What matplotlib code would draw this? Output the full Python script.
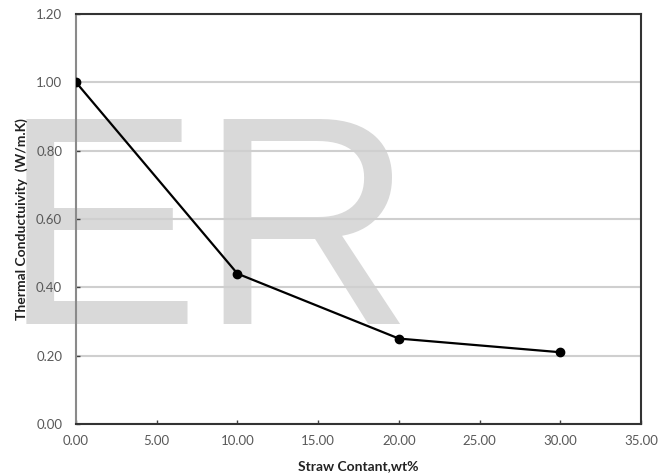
import matplotlib
matplotlib.use("Agg")
import matplotlib.pyplot as plt
from matplotlib.ticker import MultipleLocator, FormatStrFormatter

# straw content (wt%) vs thermal conductivity (W/m.K)
straw = [0, 10, 20, 30]
conductivity = [1.00, 0.44, 0.25, 0.21]

plt.rcParams['font.family'] = ['Lato', 'DejaVu Sans']

fig = plt.figure(figsize=(6.68, 4.74), dpi=100)
ax = fig.add_axes([0.1138, 0.1055, 0.8458, 0.865])
ax.patch.set_alpha(0)

# faint watermark sitting behind the plot
fig.text(0.003, 0.316, "ER", fontsize=214, color="#d9d9d9",
         family="Liberation Sans", ha="left", va="baseline", zorder=-1)

ax.plot(straw, conductivity, color="black", lw=1.6, marker="o",
        markersize=6, zorder=3)

ax.set_xlim(0, 35)
ax.set_ylim(0, 1.2)
ax.xaxis.set_major_locator(MultipleLocator(5))
ax.yaxis.set_major_locator(MultipleLocator(0.2))
ax.xaxis.set_major_formatter(FormatStrFormatter("%.2f"))
ax.yaxis.set_major_formatter(FormatStrFormatter("%.2f"))

ax.grid(axis="y", color="#cfcfcf", lw=1.5)
ax.set_axisbelow(True)
ax.tick_params(direction="in", length=3, width=1, colors="#404040",
               labelsize=9.5, labelcolor="#595959")
ax.tick_params(axis="x", pad=8)
ax.tick_params(axis="y", pad=10)

for side in ["top", "right", "bottom"]:
    ax.spines[side].set_color("#333333")
    ax.spines[side].set_linewidth(1.5)
ax.spines["left"].set_color("#8a8a8a")
ax.spines["left"].set_linewidth(1.5)

ax.set_xlabel("Straw Contant,wt%", fontsize=10, fontweight="bold",
              color="#222222", labelpad=9)
ax.set_ylabel("Thermal Conductuivity  (W/m.K)", fontsize=10,
              fontweight="bold", color="#222222", labelpad=6)

fig.savefig("out.png", dpi=100)
